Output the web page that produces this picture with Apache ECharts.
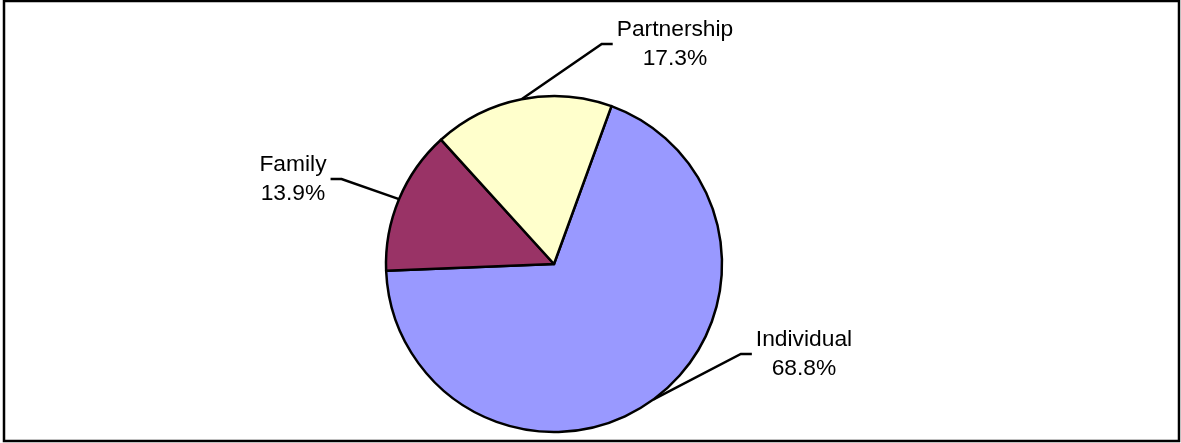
<!DOCTYPE html>
<html>
<head>
<meta charset="utf-8">
<script src="https://cdn.jsdelivr.net/npm/echarts@6/dist/echarts.min.js"></script>
<style>
html,body{margin:0;padding:0;background:#fff;}
#chart{width:1181px;height:443px;}
</style>
</head>
<body>
<div id="chart"></div>
<script>
// Data
const categories = ['Individual', 'Family', 'Partnership'];
const values = [68.8, 13.9, 17.3];
const colors = ['#9999FF', '#993366', '#FFFFCC'];

// Layout constants (style only)
const CENTER = [554, 264];
const RADIUS = 168;
// label block centre offsets relative to pie centre
const labelOffsets = [[250, 90], [-261, -85], [121, -220]];
// side of the label the leader line attaches to: -1 = left side of label, +1 = right side
const lineSide = [-1, 1, -1];

const chart = echarts.init(document.getElementById('chart'), null, {renderer: 'canvas'});

const option = {
  backgroundColor: '#ffffff',
  animation: false,
  graphic: [{
    type: 'rect',
    shape: {x: 4, y: 1, width: 1175, height: 440},
    style: {fill: 'none', stroke: '#000', lineWidth: 2.5},
    silent: true
  }],
  series: [{
    type: 'pie',
    center: CENTER,
    radius: RADIUS,
    startAngle: 70,
    clockwise: true,
    avoidLabelOverlap: false,
    data: categories.map((c, i) => ({name: c, value: values[i], itemStyle: {color: colors[i]}})),
    itemStyle: {borderColor: '#000', borderWidth: 2.5},
    label: {
      show: true,
      position: 'outside',
      formatter: p => p.name + '\n' + p.value.toFixed(1) + '%',
      fontFamily: 'Liberation Sans, Arial, sans-serif',
      fontSize: 22.8,
      lineHeight: 29,
      color: '#000',
      align: 'center'
    },
    labelLine: {
      show: true,
      length: 20,
      length2: 10,
      lineStyle: {color: '#000', width: 2.5}
    },
    labelLayout: function (params) {
      const i = params.dataIndex;
      const cx = CENTER[0] + labelOffsets[i][0];
      const cy = CENTER[1] + labelOffsets[i][1];
      const hw = params.labelRect.width / 2;
      const start = params.labelLinePoints ? params.labelLinePoints[0] : [cx, cy];
      const endX = cx + lineSide[i] * (hw + 4);
      const elbowX = endX + lineSide[i] * 11;
      return {
        x: cx,
        y: cy,
        align: 'center',
        verticalAlign: 'middle',
        labelLinePoints: [start, [elbowX, cy], [endX, cy]]
      };
    }
  }]
};
chart.setOption(option);
</script>
</body>
</html>
